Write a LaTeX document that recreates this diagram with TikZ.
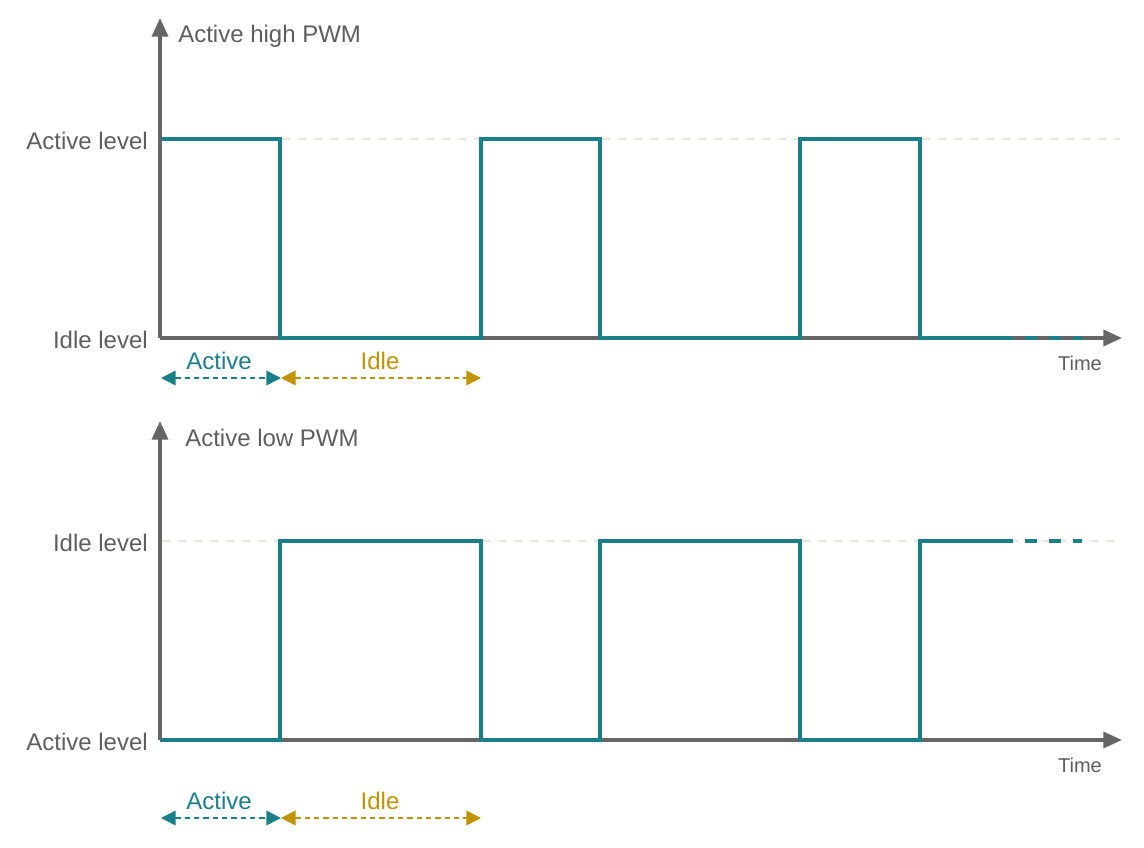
\documentclass[tikz,border=0pt]{standalone}
\usepackage{fontspec}
\setmainfont{Liberation Sans}
\usetikzlibrary{arrows.meta}
\definecolor{axisgray}{HTML}{666666}
\definecolor{txtgray}{HTML}{5E5E5E}
\definecolor{teal}{HTML}{1B7F89}
\definecolor{gold}{HTML}{C29200}
\definecolor{guide}{HTML}{E9E6DC}
\tikzset{
  axis/.style={draw=axisgray, line width=2.6pt, -{Triangle[length=14pt,width=12pt]}},
  wave/.style={draw=teal, line width=2.6pt},
  guideline/.style={draw=guide, line width=1pt, dash pattern=on 6pt off 6pt},
  lvl/.style={anchor=east, text=txtgray, font=\fontsize{18}{21}\selectfont, inner sep=0pt},
  ttl/.style={anchor=west, text=txtgray, font=\fontsize{18}{21}\selectfont, inner sep=0pt},
  timelbl/.style={text=txtgray, font=\fontsize{15}{18}\selectfont, inner sep=0pt},
  actarrow/.style={draw=teal, line width=1.1pt, dash pattern=on 4pt off 3pt, {Triangle[length=11pt,width=11pt]}-{Triangle[length=11pt,width=11pt]}},
  idlearrow/.style={draw=gold, line width=1.1pt, dash pattern=on 4pt off 3pt, {Triangle[length=11pt,width=11pt]}-{Triangle[length=11pt,width=11pt]}},
  actlbl/.style={text=teal, font=\fontsize{18}{21}\selectfont, inner sep=0pt},
  idlelbl/.style={text=gold, font=\fontsize{18}{21}\selectfont, inner sep=0pt},
}
\begin{document}
\begin{tikzpicture}[x=0.75pt,y=-0.75pt]
\useasboundingbox (0,0) rectangle (1144,848);
% ---------- top panel ----------
\draw[guideline] (282,139) -- (1120,139);
\coordinate (o1) at (160,338);
\coordinate (y1) at (160,18);
\coordinate (x1) at (1122,338);
\draw[axis] (o1) -- (y1);
\draw[axis] (o1) -- (x1);
\draw[wave, line join=miter] (161,139) -- (280,139) -- (280,338) -- (481,338) -- (481,139) -- (600,139) -- (600,338) -- (800,338) -- (800,139) -- (920,139) -- (920,338) -- (1013,338);
\draw[wave, dash pattern=on 9pt off 9pt, dash phase=9pt] (1013,338) -- (1082,338);
\node[lvl] (al1) at (148,141) {Active level};
\node[lvl] (il1) at (148,340) {Idle level};
\node[ttl] (t1) at (178,36) {Active high PWM};
\node[timelbl] (time1) at (1080,363) {Time};
\coordinate (a1s) at (161,378);
\coordinate (a1e) at (281,378);
\coordinate (i1e) at (481,378);
\draw[actarrow] (a1s) -- (a1e);
\draw[idlearrow] (a1e) -- (i1e);
\node[actlbl] (act1) at (219,361) {Active};
\node[idlelbl] (idl1) at (380,361) {Idle};
% ---------- bottom panel ----------
\draw[guideline] (162,541) -- (1120,541);
\coordinate (o2) at (160,740);
\coordinate (y2) at (160,421);
\coordinate (x2) at (1122,740);
\draw[axis] (o2) -- (y2);
\draw[axis] (o2) -- (x2);
\draw[wave, line join=miter] (161,740) -- (280,740) -- (280,541) -- (481,541) -- (481,740) -- (600,740) -- (600,541) -- (800,541) -- (800,740) -- (920,740) -- (920,541) -- (1013,541);
\draw[wave, dash pattern=on 9pt off 9pt, dash phase=9pt] (1013,541) -- (1082,541);
\node[lvl] (il2) at (148,543) {Idle level};
\node[lvl] (al2) at (148,742) {Active level};
\node[ttl] (t2) at (185,438) {Active low PWM};
\node[timelbl] (time2) at (1080,765) {Time};
\coordinate (a2s) at (161,818);
\coordinate (a2e) at (281,818);
\coordinate (i2e) at (481,818);
\draw[actarrow] (a2s) -- (a2e);
\draw[idlearrow] (a2e) -- (i2e);
\node[actlbl] (act2) at (219,801) {Active};
\node[idlelbl] (idl2) at (380,801) {Idle};
\end{tikzpicture}
\end{document}
